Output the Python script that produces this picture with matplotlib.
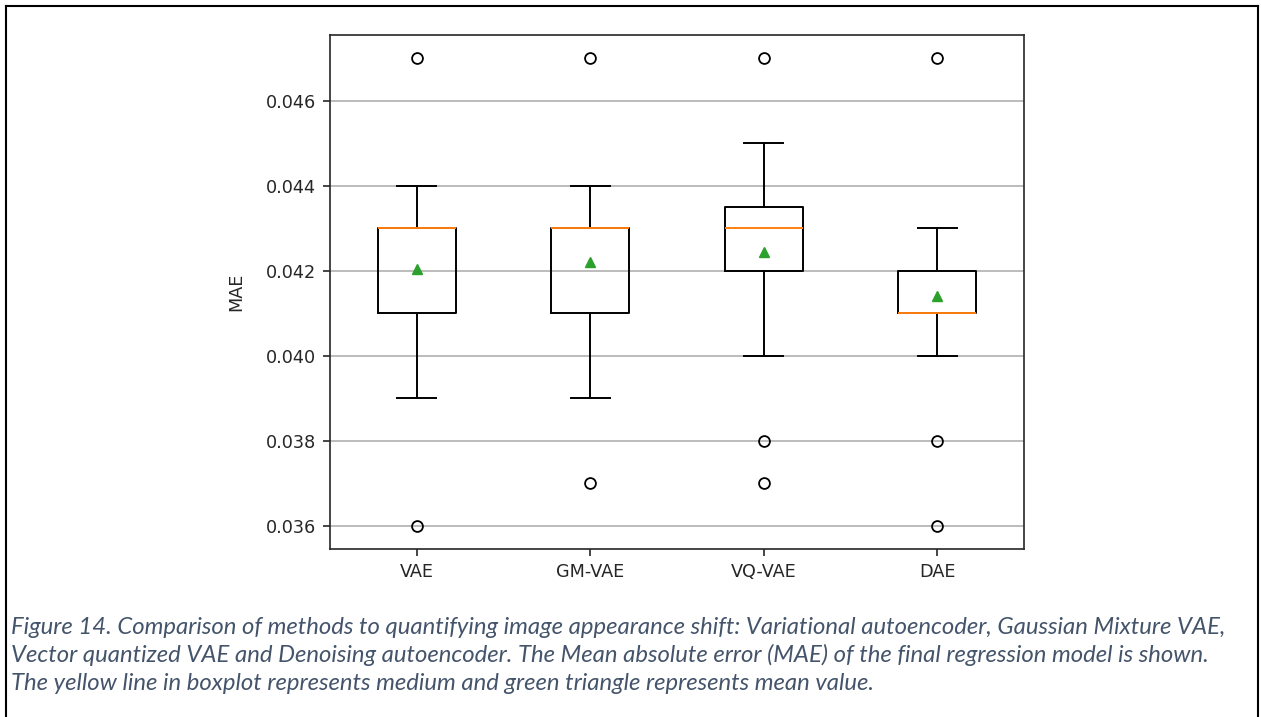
import matplotlib
matplotlib.use("Agg")
import matplotlib.pyplot as plt
from matplotlib.lines import Line2D

# ---- data ----
methods = ["VAE", "GM-VAE", "VQ-VAE", "DAE"]
q1 = [0.041, 0.041, 0.042, 0.041]
medians = [0.043, 0.043, 0.043, 0.041]
q3 = [0.043, 0.043, 0.0435, 0.042]
whislo = [0.039, 0.039, 0.040, 0.040]
whishi = [0.044, 0.044, 0.045, 0.043]
means = [0.04203, 0.04221, 0.04245, 0.04141]
fliers = [[0.047, 0.036], [0.047, 0.037], [0.047, 0.038, 0.037], [0.047, 0.038, 0.036]]
yticks = [0.036, 0.038, 0.040, 0.042, 0.044, 0.046]
ytick_labels = ["0.036", "0.038", "0.040", "0.042", "0.044", "0.046"]

caption_lines = [
    "Figure 14. Comparison of methods to quantifying image appearance shift: Variational autoencoder, Gaussian Mixture VAE,",
    "Vector quantized VAE and Denoising autoencoder. The Mean absolute error (MAE) of the final regression model is shown.",
    "The yellow line in boxplot represents medium and green triangle represents mean value.",
]

W, H = 1261, 717
fig = plt.figure(figsize=(W / 100, H / 100), dpi=100)
ax = fig.add_axes([330 / W, 1 - 549 / H, (1024 - 330) / W, (549 - 35) / H])

stats = []
for i, m in enumerate(methods):
    stats.append(dict(label=m, q1=q1[i], med=medians[i], q3=q3[i],
                      whislo=whislo[i], whishi=whishi[i], mean=means[i],
                      fliers=fliers[i]))

lw = 1.4
ax.bxp(stats, showmeans=True,
       boxprops=dict(color="black", linewidth=lw),
       whiskerprops=dict(color="black", linewidth=lw),
       capprops=dict(color="black", linewidth=lw),
       medianprops=dict(color="#ff7f0e", linewidth=lw),
       meanprops=dict(marker="^", markerfacecolor="#2ca02c", markeredgecolor="#2ca02c", markersize=7.8),
       flierprops=dict(marker="o", markerfacecolor="none", markeredgecolor="black", markersize=7.8, markeredgewidth=1.3))

fs_ax = 12.7
ax.set_ylim(0.03545, 0.04755)
ax.set_yticks(yticks)
ax.set_yticklabels(ytick_labels)
ax.yaxis.grid(True, color="#b0b0b0", linewidth=1.2)
ax.set_axisbelow(True)
ax.tick_params(labelsize=fs_ax, width=1.2, length=5, colors="#262626", pad=5)
ax.set_ylabel("MAE", fontsize=fs_ax, color="#262626")
ax.yaxis.set_label_coords((245 - 330) / 694, 0.5)
for s in ax.spines.values():
    s.set_linewidth(1.2)
    s.set_color("#262626")

# caption
fig.canvas.draw()
renderer = fig.canvas.get_renderer()
cap_color = "#44546a"
ys = [627, 655, 683]
fam = "Lato"
t0 = fig.text(11 / W, 1 - ys[0] / H, caption_lines[0], fontsize=12, style="italic",
              family=fam, color=cap_color, va="center", ha="left")
bb = t0.get_window_extent(renderer)
fs = 12 * (1222 - 11) / bb.width
t0.set_fontsize(fs)
for line, y in zip(caption_lines[1:], ys[1:]):
    fig.text(11 / W, 1 - y / H, line, fontsize=fs, style="italic", family=fam,
             color=cap_color, va="center", ha="left")

# outer frame
x0, x1, y0 = 5.5 / W, 1258 / W, 1 - 5.5 / H
fig.add_artist(Line2D([x0, x1], [y0, y0], color="black", linewidth=1.5, transform=fig.transFigure))
fig.add_artist(Line2D([x0, x0], [y0, 0], color="black", linewidth=1.5, transform=fig.transFigure))
fig.add_artist(Line2D([x1, x1], [y0, 0], color="black", linewidth=1.5, transform=fig.transFigure))

fig.savefig("out.png", dpi=100)
